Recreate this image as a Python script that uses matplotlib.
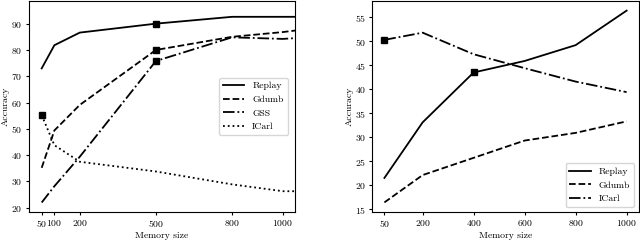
import numpy as np
import matplotlib
matplotlib.use('Agg')
import matplotlib.pyplot as plt

plt.rcParams['font.family'] = 'serif'
plt.rcParams['font.serif'] = ['cmr10', 'DejaVu Serif']
plt.rcParams['axes.formatter.use_mathtext'] = True
plt.rcParams['font.size'] = 7

# left panel
mem_left = [50, 100, 200, 500, 800, 1000, 1050]
replay_left = [73.0, 81.8, 86.6, 90.0, 92.6, 92.6, 92.6]
gdumb_left = [35.2, 49.4, 59.1, 80.0, 85.0, 86.8, 87.4]
gss_left = [22.0, 28.2, 39.4, 75.8, 84.8, 84.2, 84.5]
icarl_left = [55.2, 43.8, 37.5, 33.8, 28.9, 26.3, 26.3]
ticks_left = [50, 100, 200, 500, 800, 1000]

# right panel
mem_right = [50, 200, 400, 600, 800, 1000]
replay_right = [21.5, 33.1, 43.5, 45.9, 49.2, 56.4]
gdumb_right = [16.4, 22.1, 25.7, 29.3, 30.9, 33.3]
icarl_right = [50.3, 51.8, 47.3, 44.4, 41.6, 39.4]

fig = plt.figure(figsize=(6.4, 2.4), dpi=100)
ax1 = fig.add_axes([0.0453, 0.1167, 0.4157, 0.879])
ax2 = fig.add_axes([0.5817, 0.1167, 0.4163, 0.879])


def draw(ax, x, y, style, label, marks):
    ax.plot(x, y, style, color='black', lw=1.3, label=label)
    for i in marks:
        ax.plot(x[i], y[i], 's', color='black', markersize=4.5)


draw(ax1, mem_left, replay_left, '-', 'Replay', [3])
draw(ax1, mem_left, gdumb_left, '--', 'Gdumb', [3])
draw(ax1, mem_left, gss_left, '-.', 'GSS', [3])
draw(ax1, mem_left, icarl_left, ':', 'ICarl', [0])
ax1.set_xlim(0, 1048)
ax1.set_ylim(18.4, 98.6)
ax1.set_xticks(ticks_left)
ax1.set_yticks(np.arange(20, 91, 10))
ax1.legend(loc='center right', bbox_to_anchor=(0.99, 0.5), fontsize=7,
           handlelength=2.2)

draw(ax2, mem_right, replay_right, '-', 'Replay', [2])
draw(ax2, mem_right, gdumb_right, '--', 'Gdumb', [])
draw(ax2, mem_right, icarl_right, '-.', 'ICarl', [0])
ax2.set_xticks(mem_right)
ax2.set_yticks(np.arange(15, 56, 5))
ax2.legend(loc='lower right', fontsize=7, handlelength=2.2)

for ax in (ax1, ax2):
    ax.set_xlabel('Memory size', labelpad=2)
    ax.set_ylabel('Accuracy', labelpad=1)
    ax.tick_params(labelsize=7, length=2.5, pad=2)
    for s in ax.spines.values():
        s.set_linewidth(0.8)

fig.savefig('out.png', dpi=100)
